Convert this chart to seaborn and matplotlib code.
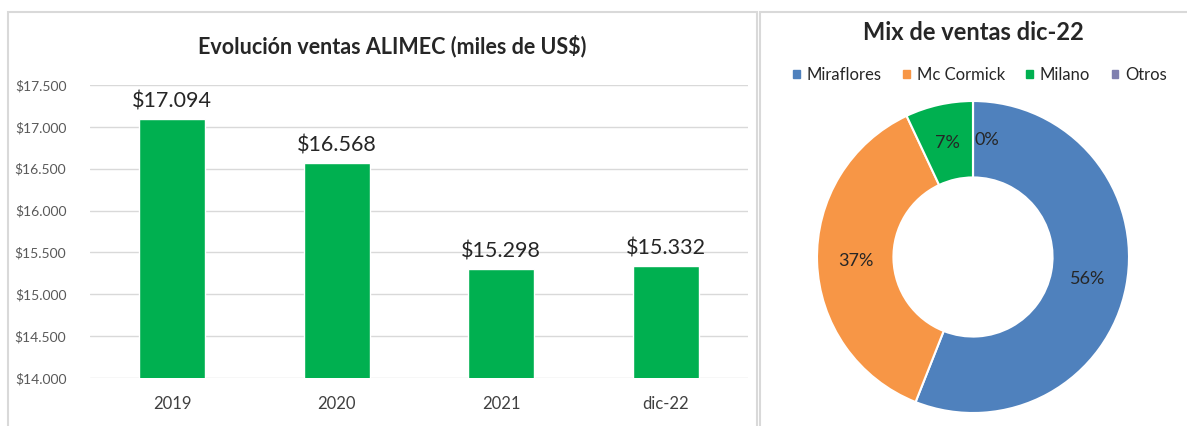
import matplotlib
matplotlib.use("Agg")
import matplotlib.pyplot as plt
import seaborn as sns
import pandas as pd
import numpy as np
from matplotlib.patches import Rectangle

# Data
periodos = ["2019", "2020", "2021", "dic-22"]
ventas = [17094, 16568, 15298, 15332]
y_ticks = [14000, 14500, 15000, 15500, 16000, 16500, 17000, 17500]

marcas = ["Miraflores", "Mc Cormick", "Milano", "Otros"]
mix = [56, 37, 7, 0]
mix_labels = ["56%", "37%", "7%", "0%"]
mix_colors = ["#4F81BD", "#F79646", "#00B050", "#7F7FAF"]

sns.set_style("white")
plt.rcParams["font.family"] = ["Lato", "DejaVu Sans"]


def miles(v):
    return "$" + f"{v:,.0f}".replace(",", ".")


fig = plt.figure(figsize=(11.87, 4.26), dpi=100)

# panel borders
W, H = 1187, 426
fig.patches.append(Rectangle((8 / W, -0.01), (757 - 8) / W, 1 - 12 / H + 0.01,
                             transform=fig.transFigure, fill=False,
                             edgecolor="#d9d9d9", linewidth=1.5))
fig.patches.append(Rectangle((760 / W, -0.01), (W + 5 - 760) / W, 1 - 12 / H + 0.01,
                             transform=fig.transFigure, fill=False,
                             edgecolor="#d9d9d9", linewidth=1.5))

# Bar chart
ax = fig.add_axes([90 / W, 1 - 378 / H, (748 - 90) / W, (378 - 85) / H])
df = pd.DataFrame({"periodo": periodos, "ventas": ventas})
sns.barplot(data=df, x="periodo", y="ventas", color="#00B050", width=0.4,
            saturation=1, ax=ax, zorder=3)
ax.set_ylim(14000, 17500)
ax.set_yticks(y_ticks)
ax.set_yticklabels([miles(v) for v in y_ticks], fontsize=10, color="#595959")
ax.tick_params(axis="x", labelsize=12, colors="#404040", pad=13, length=0)
ax.tick_params(axis="y", length=0, pad=17)
ax.grid(axis="y", color="#d9d9d9", linewidth=1, zorder=0)
ax.set_axisbelow(True)
for s in ax.spines.values():
    s.set_visible(False)
ax.set_xlabel("")
ax.set_ylabel("")
for i, v in enumerate(ventas):
    ax.text(i, v + 90, miles(v), ha="center", va="bottom", fontsize=15.5,
            color="#262626")
fig.text(392 / W, 1 - 46 / H, "Evolución ventas ALIMEC (miles de US$)",
         ha="center", va="center", fontsize=15.5, fontweight="bold", color="#262626")

# Donut chart
r_px = 156
ax2 = fig.add_axes([(973 - r_px) / W, 1 - (257 + r_px) / H, 2 * r_px / W, 2 * r_px / H])
wedges, texts = ax2.pie(mix, colors=mix_colors, startangle=90, counterclock=False,
                        wedgeprops=dict(width=0.49, edgecolor="white", linewidth=1.5))
ax2.set_xlim(-1, 1)
ax2.set_ylim(-1, 1)
ax2.set_aspect("equal")
for w, lab, val in zip(wedges, mix_labels, mix):
    mid = np.deg2rad((w.theta1 + w.theta2) / 2)
    x, y = 0.75 * np.cos(mid), 0.75 * np.sin(mid)
    if val == 0:
        x += 0.09
    ax2.text(x, y, lab, ha="center", va="center", fontsize=13, color="#262626")

fig.text(973 / W, 1 - 33 / H, "Mix de ventas dic-22", ha="center", va="center",
         fontsize=17, fontweight="bold", color="#262626")
handles = [Rectangle((0, 0), 1, 1, color=c) for c in mix_colors]
fig.legend(handles, marcas, loc="center", bbox_to_anchor=(980 / W, 1 - 75 / H),
           ncol=4, frameon=False, fontsize=12, handlelength=0.4, handleheight=0.4,
           columnspacing=1.3, handletextpad=0.4)

fig.savefig("out.png", dpi=100)
